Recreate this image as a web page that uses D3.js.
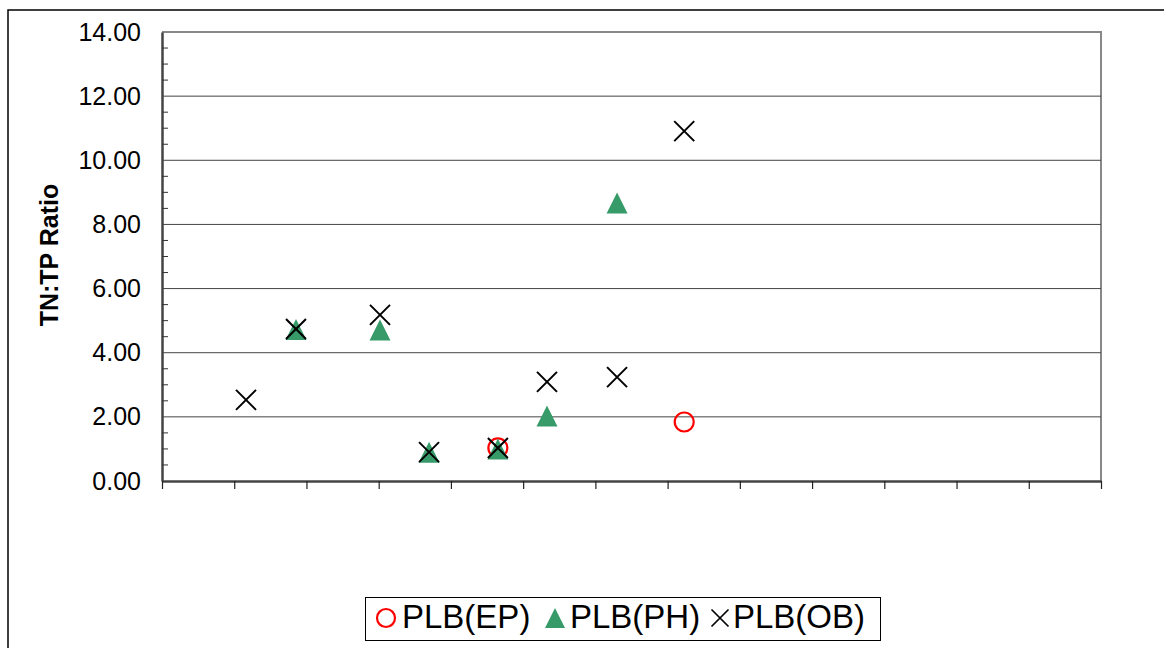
<!DOCTYPE html>
<html>
<head>
<meta charset="utf-8">
<script src="https://cdn.jsdelivr.net/npm/d3@7"></script>
<style>
  html, body { margin: 0; padding: 0; background: #fff; }
  svg { display: block; }
</style>
</head>
<body>
<svg id="chart" width="1164" height="648"></svg>
<script>
// Sampling positions along the (unlabelled) x axis, in axis units 0..13
const epX = [4.65, 7.23];
const epY = [1.03, 1.84];
const phX = [1.855, 3.018, 3.697, 4.65, 5.33, 6.30];
const phY = [4.72, 4.71, 0.90, 1.00, 2.03, 8.67];
const obX = [1.163, 1.855, 3.018, 3.697, 4.65, 5.33, 6.30, 7.23];
const obY = [2.53, 4.74, 5.18, 0.90, 1.03, 3.09, 3.24, 10.91];
const yTicks = [0, 2, 4, 6, 8, 10, 12, 14];
const seriesNames = ["PLB(EP)", "PLB(PH)", "PLB(OB)"];

const svg = d3.select("#chart");
const m = { left: 162, top: 32, right: 1101, bottom: 481 };
const font = "Liberation Sans, Arial, sans-serif";

const x = d3.scaleLinear().domain([0, 13]).range([m.left, m.right]);
const y = d3.scaleLinear().domain([0, 14]).range([m.bottom, m.top]);

// outer chart frame
svg.append("rect")
  .attr("x", 8).attr("y", 10).attr("width", 1170).attr("height", 660)
  .attr("fill", "none").attr("stroke", "#000").attr("stroke-width", 1.5);

// plot-area border (top and right)
svg.append("path")
  .attr("d", `M${m.left},${m.top}H${m.right}V${m.bottom}`)
  .attr("fill", "none").attr("stroke", "#888").attr("stroke-width", 2);

// horizontal gridlines
svg.append("g").selectAll("line")
  .data(yTicks.filter(d => d > 0 && d < 14))
  .join("line")
  .attr("x1", m.left).attr("x2", m.right)
  .attr("y1", d => y(d)).attr("y2", d => y(d))
  .attr("stroke", "#444").attr("stroke-width", 1);

// y axis: major labels plus inward minor ticks every 0.5
const yAxis = d3.axisLeft(y).tickValues(yTicks).tickFormat(d3.format(".2f")).tickSize(0).tickPadding(21);
const gy = svg.append("g").attr("transform", `translate(${m.left},0)`).call(yAxis);
gy.select(".domain").attr("stroke", "#444").attr("stroke-width", 2.5);
gy.selectAll("text").attr("font-family", font)
  .attr("font-size", 25).attr("fill", "#000");

const minor = d3.range(0, 14.01, 0.5).filter(d => d % 2 !== 0);
svg.append("g").selectAll("line").data(minor).join("line")
  .attr("x1", m.left).attr("x2", m.left + 6)
  .attr("y1", d => y(d)).attr("y2", d => y(d))
  .attr("stroke", "#333").attr("stroke-width", 1);

// x axis: tick marks only
const xAxis = d3.axisBottom(x).tickValues(d3.range(0, 14)).tickFormat("").tickSizeInner(8).tickSizeOuter(0);
const gx = svg.append("g").attr("transform", `translate(0,${m.bottom})`).call(xAxis);
gx.select(".domain").attr("stroke", "#444").attr("stroke-width", 2.5);
gx.selectAll(".tick line").attr("stroke", "#222").attr("stroke-width", 1.2);

// y axis title
svg.append("text")
  .attr("transform", `translate(58,255) rotate(-90)`)
  .attr("text-anchor", "middle")
  .attr("font-family", font)
  .attr("font-weight", "bold").attr("font-size", 25)
  .text("TN:TP Ratio");

// marker drawers
const green = "#379b69";
function circle(g, cx, cy, r) {
  g.append("circle").attr("cx", cx).attr("cy", cy).attr("r", r)
    .attr("fill", "none").attr("stroke", "#ff0000").attr("stroke-width", 2.2);
}
function tri(g, cx, cy, s) {
  const h = s;
  g.append("path")
    .attr("d", `M${cx},${cy - h / 2}L${cx + s / 2},${cy + h / 2}L${cx - s / 2},${cy + h / 2}Z`)
    .attr("fill", green);
}
function cross(g, cx, cy, s, w) {
  g.append("path")
    .attr("d", `M${cx - s},${cy - s}L${cx + s},${cy + s}M${cx - s},${cy + s}L${cx + s},${cy - s}`)
    .attr("stroke", "#000").attr("stroke-width", w).attr("fill", "none");
}

const marks = svg.append("g");
epX.forEach((d, i) => circle(marks, x(d), y(epY[i]), 9.5));
phX.forEach((d, i) => tri(marks, x(d), y(phY[i]), 21));
obX.forEach((d, i) => cross(marks, x(d), y(obY[i]), 10, 2));

// legend
const lg = svg.append("g");
lg.append("rect").attr("x", 365.5).attr("y", 597.5).attr("width", 515).attr("height", 43)
  .attr("fill", "#fff").attr("stroke", "#000").attr("stroke-width", 1);
const lx = [386, 555, 720];
const tx = [402, 570, 733];
circle(lg, lx[0], 618, 9);
tri(lg, lx[1], 618, 20);
cross(lg, lx[2], 618, 8.5, 1.7);
lg.selectAll("text.lbl").data(seriesNames).join("text")
  .attr("class", "lbl")
  .attr("x", (d, i) => tx[i]).attr("y", 628)
  .attr("font-family", font)
  .attr("font-size", 33).attr("fill", "#000")
  .text(d => d);
</script>
</body>
</html>
